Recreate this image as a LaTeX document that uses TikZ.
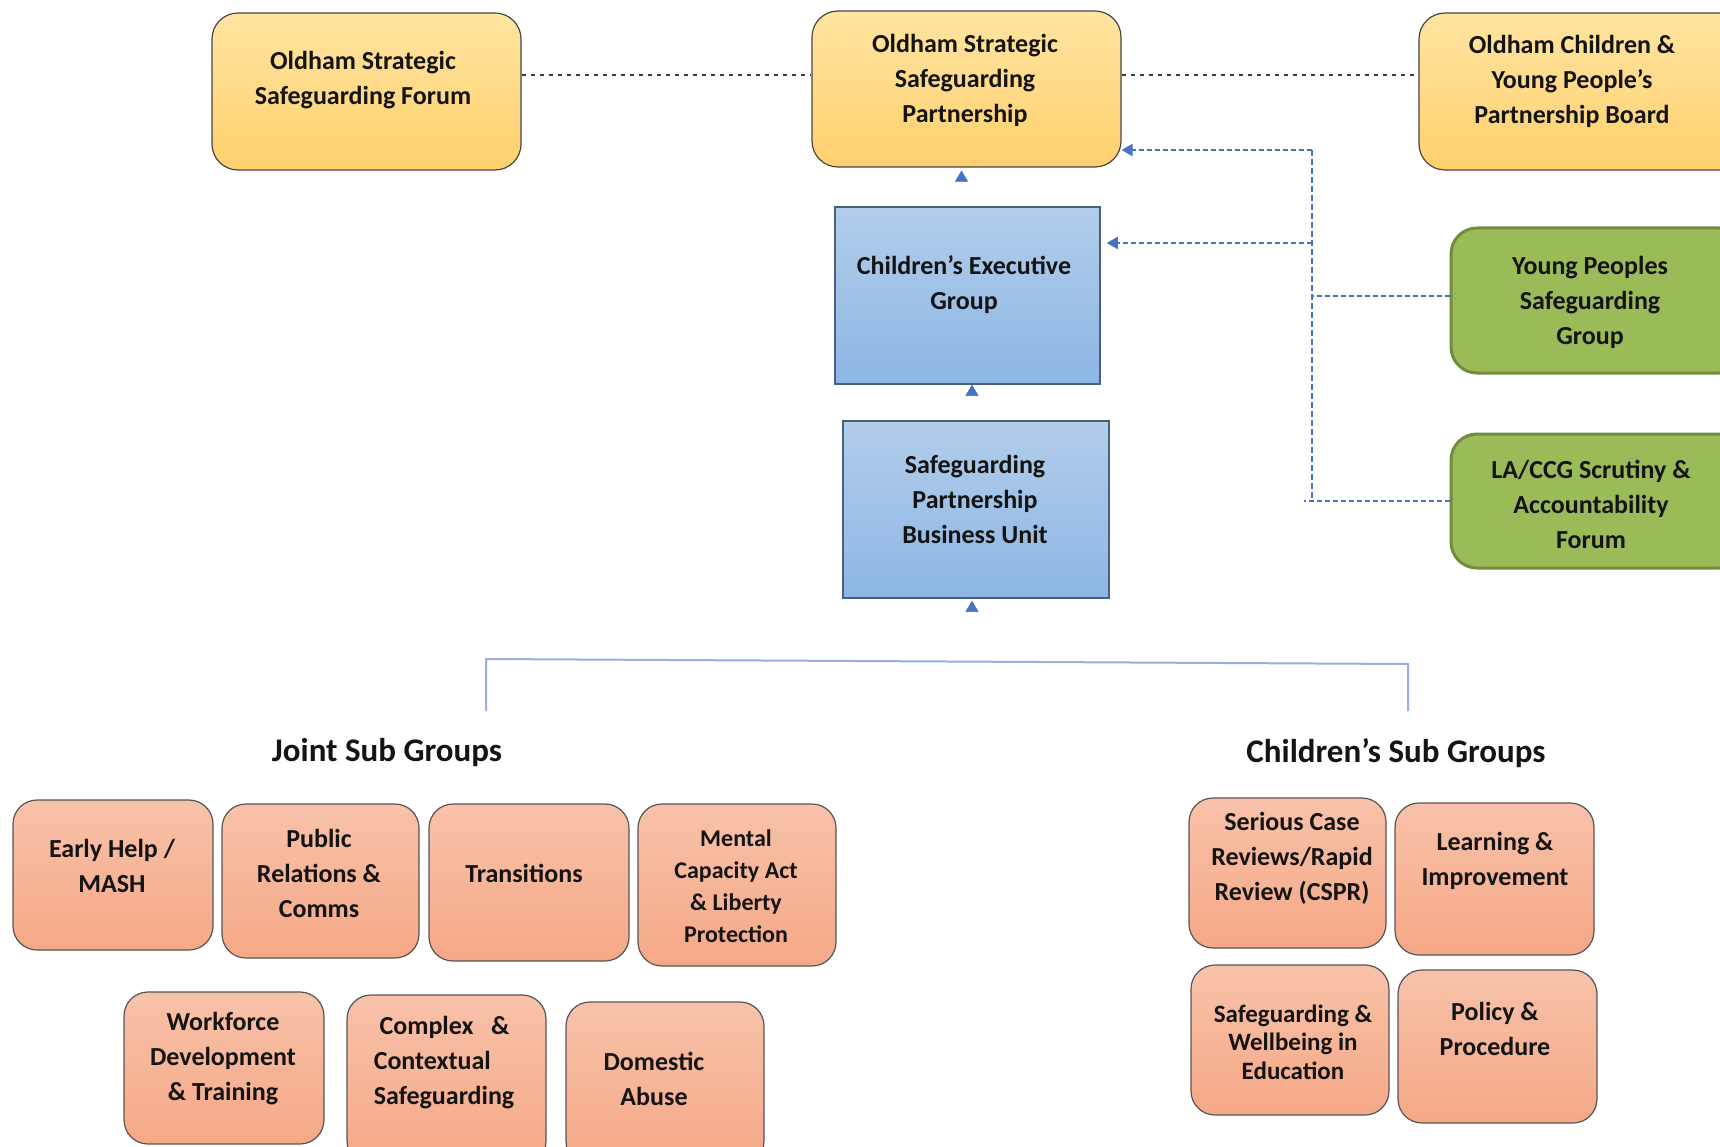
\documentclass[tikz,border=0pt]{standalone}
\usepackage{fontspec}
\setmainfont{Carlito}
\usetikzlibrary{arrows.meta,calc}
\definecolor{yTop}{RGB}{255,228,160}
\definecolor{yBot}{RGB}{255,208,110}
\definecolor{yBorder}{RGB}{70,70,70}
\definecolor{bTop}{RGB}{178,205,234}
\definecolor{bBot}{RGB}{141,182,228}
\definecolor{bBorder}{RGB}{75,95,125}
\definecolor{gFill}{RGB}{155,187,89}
\definecolor{gBorder}{RGB}{113,140,60}
\definecolor{oTop}{RGB}{248,194,170}
\definecolor{oBot}{RGB}{245,168,134}
\definecolor{oBorder}{RGB}{85,85,85}
\definecolor{dblue}{RGB}{68,114,196}
\definecolor{brk}{RGB}{150,176,224}
\newcommand{\boxat}[6]{\node[#1, minimum width={(#5-#3)*1pt}, minimum height={(#6-#4)*1pt}] (#2) at ({(#3+#5)/2},{(#4+#6)/2}) {};}
\begin{document}
\begin{tikzpicture}[x=1pt,y=-1pt,
  ybox/.style={draw=yBorder, line width=1.2pt, top color=yTop, bottom color=yBot, rounded corners=26pt, inner sep=0pt},
  bbox/.style={draw=bBorder, line width=1.5pt, top color=bTop, bottom color=bBot, inner sep=0pt},
  gbox/.style={draw=gBorder, line width=3pt, fill=gFill, rounded corners=26pt, inner sep=0pt},
  obox/.style={draw=oBorder, line width=1.2pt, top color=oTop, bottom color=oBot, rounded corners=24pt, inner sep=0pt},
  lbl/.style={font=\bfseries\fontsize{26}{35}\selectfont, align=center, inner sep=0pt, text={rgb,255:red,20;green,20;blue,20}},
  lblsmall/.style={lbl, font=\bfseries\fontsize{24}{32}\selectfont},
  lbltight/.style={lbl, font=\bfseries\fontsize{25}{28.5}\selectfont},
  heading/.style={font=\bfseries\fontsize{33}{40}\selectfont, inner sep=0pt, text={rgb,255:red,20;green,20;blue,20}},
  dotline/.style={draw={rgb,255:red,60;green,60;blue,60}, line width=1.5pt, dash pattern=on 4pt off 5pt},
  bluedash/.style={draw=dblue, line width=2pt, dash pattern=on 5pt off 3pt},
  bluevert/.style={draw=dblue, line width=1.5pt, dash pattern=on 6pt off 3pt},
  bluetip/.style={-{Triangle[width=12pt,length=11pt,color=dblue]}},
  uptip/.style={draw=white, line width=0.5pt, shorten <=3pt, -{Triangle[width=13pt,length=11pt,color=dblue]}},
  bracket/.style={draw=brk, line width=2pt}
]
\useasboundingbox (0,0) rectangle (1720,1147);
\clip (0,0) rectangle (1720,1147);
\fill[white] (0,0) rectangle (1720,1147);

% top row
\boxat{ybox}{forum}{212}{13}{521}{170}
\boxat{ybox}{ossp}{812}{11}{1121}{167}
\boxat{ybox}{ocyp}{1419}{13}{1745}{170}
\node[lbl] (forumL) at (363,80) {Oldham Strategic\\Safeguarding Forum};
\node[lbl] (osspL) at (965,80) {Oldham Strategic\\Safeguarding\\Partnership};
\node[lbl] (ocypL) at (1572,81) {Oldham Children \&\\Young People’s\\Partnership Board};

% blue boxes
\boxat{bbox}{ceg}{835}{207}{1100}{384}
\boxat{bbox}{spbu}{843}{421}{1109}{598}
\node[lbl] (cegL) at (964,285) {Children’s Executive\\Group};
\node[lbl] (spbuL) at (975,499) {Safeguarding\\Partnership\\Business Unit};

% green boxes
\boxat{gbox}{ypsg}{1451}{228}{1745}{373}
\boxat{gbox}{lacc}{1451}{434}{1745}{568}
\node[lbl] (ypsgL) at (1590,302) {Young Peoples\\Safeguarding\\Group};
\node[lbl] (laccL) at (1591,504) {LA/CCG Scrutiny \&\\Accountability\\Forum};

% dotted links
\draw[dotline] ([yshift=16.5pt]forum.east) -- ([yshift=14pt]ossp.west);
\draw[dotline] ([yshift=14pt]ossp.east) -- ([yshift=16.5pt]ocyp.west);

% up arrows
\draw[uptip] ([xshift=-6pt]ceg.north) -- ([xshift=-6pt,yshift=-3pt]ceg.north |- ossp.south);
\draw[uptip] ([xshift=-4pt]spbu.north) -- ([xshift=-4pt]spbu.north |- ceg.south);
\coordinate (bmid) at (972,659);
\draw[uptip] (bmid) -- ([yshift=-2pt]bmid |- spbu.south);

% blue dashed connectors
\coordinate (vtop) at (1312,150);
\coordinate (vmid) at (1312,243);
\coordinate (vbot) at (1312,501);
\draw[bluevert] (vtop) -- (vbot);
\draw[bluedash, bluetip] (vtop) -- (vtop -| ossp.east);
\draw[bluedash, bluetip] (vmid) -- ([xshift=6pt]vmid -| ceg.east);
\draw[bluedash] ([yshift=4.5pt]ypsg.west) -- ([yshift=4.5pt]ypsg.west -| vtop);
\draw[bluedash, line width=2.5pt] (lacc.west) -- ([xshift=-8pt]lacc.west -| vbot);

% bracket
\coordinate (bl) at (486,711);
\coordinate (blt) at (486,659);
\coordinate (brt) at (1408,664);
\coordinate (br) at (1408,711);
\draw[bracket] (bl) -- (blt) -- (brt) -- (br);

% headings
\node[heading] (jsg) at (387,753) {Joint Sub Groups};
\node[heading] (csg) at (1396,753) {Children’s Sub Groups};

% joint sub groups
\boxat{obox}{early}{13}{800}{213}{950}
\boxat{obox}{public}{222}{804}{419}{958}
\boxat{obox}{trans}{429}{804}{629}{961}
\boxat{obox}{mental}{638}{804}{836}{966}
\boxat{obox}{work}{124}{992}{324}{1144}
\boxat{obox}{complex}{347}{995}{546}{1165}
\boxat{obox}{domestic}{566}{1002}{764}{1165}
\node[lbl] (earlyL) at (112,866) {Early Help /\\MASH};
\node[lbl] (publicL) at (319,873) {Public\\Relations \&\\Comms};
\node[lbl] (transL) at (524,873) {Transitions};
\node[lblsmall] (mentalL) at (736,886) {Mental\\Capacity Act\\\& Liberty\\Protection};
\node[lbl] (workL) at (223,1059) {Workforce\\Development\\\& Training};
\node[lbl, align=left] (complexL) at (444,1063) {\ Complex\ \ \ \&\\Contextual\\Safeguarding};
\node[lbl] (domesticL) at (654,1079) {Domestic\\Abuse};

% children's sub groups
\boxat{obox}{serious}{1189}{798}{1386}{948}
\boxat{obox}{learning}{1395}{803}{1594}{955}
\boxat{obox}{swe}{1191}{965}{1389}{1115}
\boxat{obox}{policy}{1398}{970}{1597}{1123}
\node[lbl] (seriousL) at (1292,858) {Serious Case\\Reviews/Rapid\\Review (CSPR)};
\node[lbl] (learningL) at (1495,861) {Learning \&\\Improvement};
\node[lbltight] (sweL) at (1293,1042) {Safeguarding \&\\Wellbeing in\\Education};
\node[lbl] (policyL) at (1495,1029) {Policy \&\\Procedure};
\end{tikzpicture}
\end{document}
